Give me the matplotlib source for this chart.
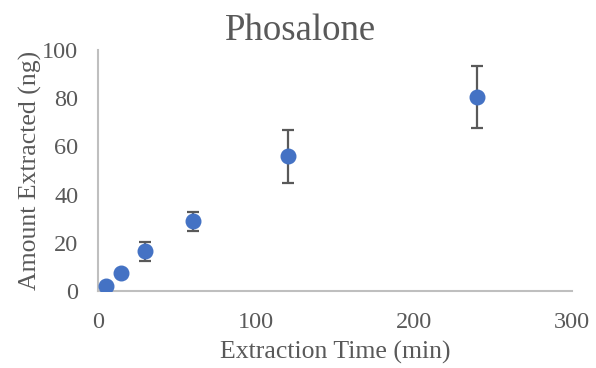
import matplotlib.pyplot as plt

# Phosalone extraction data
time_min = [5, 15, 30, 60, 120, 240]
amount_ng = [2, 7.5, 16.5, 29, 56, 80.5]
amount_err = [0, 0, 4, 4, 11, 13]

plt.rcParams['font.family'] = ['Liberation Serif', 'DejaVu Serif']
text_color = '#595959'

fig = plt.figure(figsize=(5.96, 3.68), dpi=100)
ax = fig.add_axes([0.164, 0.209, 0.796, 0.655])

ax.errorbar(time_min, amount_ng, yerr=amount_err, fmt='none',
            ecolor='#595959', elinewidth=1.6, capsize=4.5, capthick=1.6, zorder=2)
ax.scatter(time_min, amount_ng, s=110, color='#4472C4', zorder=3)

ax.set_xlim(0, 300)
ax.set_ylim(0, 100)
ax.set_xticks([0, 100, 200, 300])
ax.set_yticks(range(0, 101, 20))

for side in ['top', 'right']:
    ax.spines[side].set_visible(False)
for side in ['left', 'bottom']:
    ax.spines[side].set_color('#BFBFBF')
    ax.spines[side].set_linewidth(1.5)
ax.tick_params(length=0, labelsize=17.5, labelcolor=text_color)
ax.tick_params(axis='y', pad=14)
ax.tick_params(axis='x', pad=15)

# title is centred on the whole figure, not on the plot area
fig.suptitle('Phosalone', fontsize=26.5, color=text_color, x=0.505, y=0.963)
ax.set_xlabel('Extraction Time (min)', fontsize=18.5, color=text_color, labelpad=6)
ax.set_ylabel('Amount Extracted (ng)', fontsize=18.5, color=text_color, labelpad=0)

fig.savefig('out.png', dpi=100)
